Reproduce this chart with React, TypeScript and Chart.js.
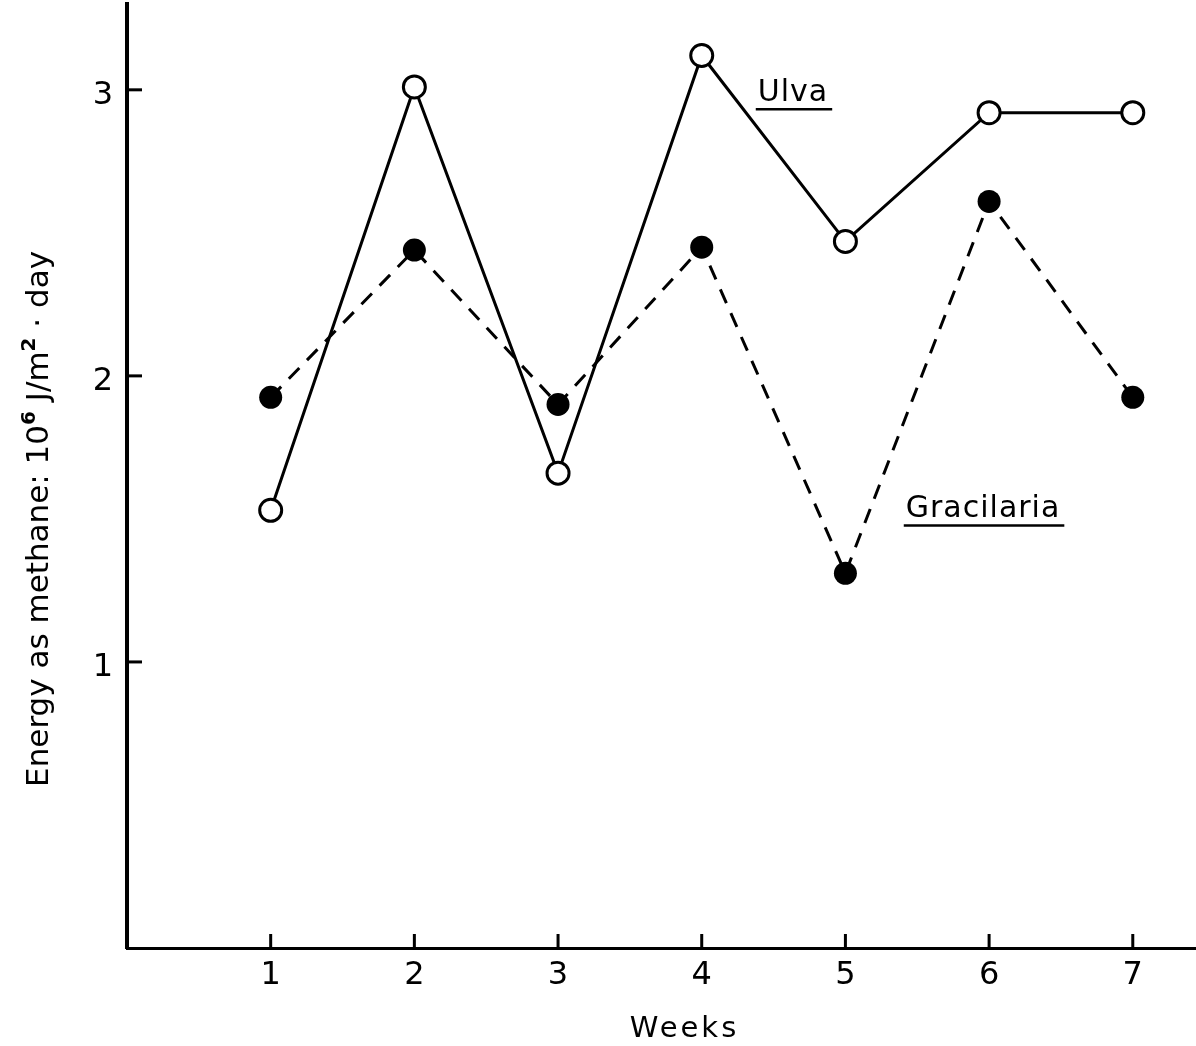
import React, { useEffect, useRef } from 'react';
import { Chart, registerables } from 'chart.js';

Chart.register(...registerables);

// ---- data ----
const weeks = [1, 2, 3, 4, 5, 6, 7];
const ulva = [1.53, 3.01, 1.66, 3.12, 2.47, 2.92, 2.92];
const gracilaria = [1.925, 2.44, 1.9, 2.45, 1.31, 2.61, 1.925];
const seriesNames = ['Ulva', 'Gracilaria'];
const xTickValues = [1, 2, 3, 4, 5, 6, 7];
const yTickValues = [1, 2, 3];
const xTitle = 'Weeks';
// y title pieces: [text, isSuperscript]
const yTitleParts: [string, boolean][] = [
  ['Energy as methane: 10', false],
  ['6', true],
  [' J/m', false],
  ['2', true],
  [' · day', false],
];
// where series labels sit, in data coordinates (left edge, baseline)
const seriesLabelAt = [
  { x: 4.39, y: 2.96 },
  { x: 5.42, y: 1.505 },
];

const FONT = '"DejaVu Sans", "Liberation Sans", sans-serif';

const annotations = {
  id: 'annotations',
  afterDraw(chart: any) {
    const { ctx, chartArea, scales } = chart;
    const xs = scales.x;
    const ys = scales.y;
    ctx.save();
    ctx.strokeStyle = '#000';
    ctx.fillStyle = '#000';
    ctx.lineWidth = 3;
    ctx.lineCap = 'butt';
    ctx.setLineDash([]);
    // inward tick marks (pointing into the plot)
    const yAxisX = ys.right;
    const xAxisY = xs.top;
    for (const v of yTickValues) {
      const py = ys.getPixelForValue(v);
      ctx.beginPath();
      ctx.moveTo(yAxisX + 1, py);
      ctx.lineTo(yAxisX + 15, py);
      ctx.stroke();
    }
    for (const v of xTickValues) {
      const px = xs.getPixelForValue(v);
      ctx.beginPath();
      ctx.moveTo(px, xAxisY - 1);
      ctx.lineTo(px, xAxisY - 14);
      ctx.stroke();
    }

    // series labels with underline
    ctx.font = `30px ${FONT}`;
    (ctx as any).letterSpacing = '1px';
    ctx.textAlign = 'left';
    ctx.textBaseline = 'alphabetic';
    seriesNames.forEach((name, i) => {
      const px = xs.getPixelForValue(seriesLabelAt[i].x);
      const py = ys.getPixelForValue(seriesLabelAt[i].y);
      ctx.fillText(name, px, py);
      const w = ctx.measureText(name).width;
      ctx.lineWidth = 2.5;
      ctx.beginPath();
      ctx.moveTo(px - 2, py + 8);
      ctx.lineTo(px + w + 4, py + 8);
      ctx.stroke();
    });

    // x title
    ctx.font = `29px ${FONT}`;
    (ctx as any).letterSpacing = '3px';
    ctx.textAlign = 'center';
    ctx.fillText(xTitle, xs.getPixelForValue(3.88), chartArea.bottom + 89);

    // y title (rotated, with superscripts)
    (ctx as any).letterSpacing = '0px';
    const mainFont = `31px ${FONT}`;
    const supFont = `bold 20px ${FONT}`;
    let total = 0;
    const widths = yTitleParts.map(([t, sup]) => {
      ctx.font = sup ? supFont : mainFont;
      const w = ctx.measureText(t).width;
      total += w;
      return w;
    });
    ctx.translate(48, ys.getPixelForValue(1.5));
    ctx.rotate(-Math.PI / 2);
    ctx.textAlign = 'left';
    let cx = -total / 2;
    yTitleParts.forEach(([t, sup], i) => {
      ctx.font = sup ? supFont : mainFont;
      ctx.fillText(t, cx, sup ? -13 : 0);
      cx += widths[i];
    });
    ctx.restore();
  },
};

export default function App() {
  const ref = useRef<HTMLCanvasElement | null>(null);

  useEffect(() => {
    if (!ref.current) return;
    const chart = new Chart(ref.current, {
      type: 'line',
      data: {
        datasets: [
          {
            label: seriesNames[0],
            data: weeks.map((w, i) => ({ x: w, y: ulva[i] })),
            borderColor: '#000',
            borderWidth: 3,
            pointRadius: 11,
            pointBackgroundColor: '#fff',
            pointBorderColor: '#000',
            pointBorderWidth: 3,
            tension: 0,
            fill: false,
          },
          {
            label: seriesNames[1],
            data: weeks.map((w, i) => ({ x: w, y: gracilaria[i] })),
            borderColor: '#000',
            borderWidth: 3,
            borderDash: [15, 11],
            pointRadius: 11.5,
            pointBackgroundColor: '#000',
            pointBorderColor: '#000',
            pointBorderWidth: 0,
            tension: 0,
            fill: false,
          },
        ],
      },
      options: {
        animation: false,
        responsive: false,
        maintainAspectRatio: false,
        layout: { autoPadding: false, padding: { top: 4, right: 0, left: 0, bottom: 0 } },
        plugins: {
          legend: { display: false },
          tooltip: { enabled: false },
          title: { display: false },
        },
        scales: {
          x: {
            type: 'linear',
            min: 0,
            max: 7.44,
            grid: { display: false, drawTicks: false },
            border: { display: true, color: '#000', width: 3 },
            ticks: {
              color: '#000',
              font: { family: FONT, size: 32 },
              padding: 8,
            },
            afterBuildTicks: (s: any) => {
              s.ticks = xTickValues.map((v) => ({ value: v }));
            },
            afterFit: (s: any) => {
              s.height = 98;
              s.paddingLeft = 0;
              s.paddingRight = 0;
            },
          },
          y: {
            type: 'linear',
            min: 0,
            max: 3.3,
            grid: { display: false, drawTicks: false },
            border: { display: true, color: '#000', width: 4 },
            ticks: {
              color: '#000',
              font: { family: FONT, size: 32 },
              padding: 14,
              labelOffset: 6,
            },
            afterBuildTicks: (s: any) => {
              s.ticks = yTickValues.map((v) => ({ value: v }));
            },
            afterFit: (s: any) => {
              s.width = 127;
              s.paddingTop = 0;
              s.paddingBottom = 0;
            },
          },
        },
      },
      plugins: [annotations],
    } as any);
    return () => chart.destroy();
  }, []);

  return (
    <div style={{ position: 'absolute', left: 0, top: 0, width: 1196, height: 1046, background: '#fff' }}>
      <canvas ref={ref} width={1196} height={1046} />
    </div>
  );
}
